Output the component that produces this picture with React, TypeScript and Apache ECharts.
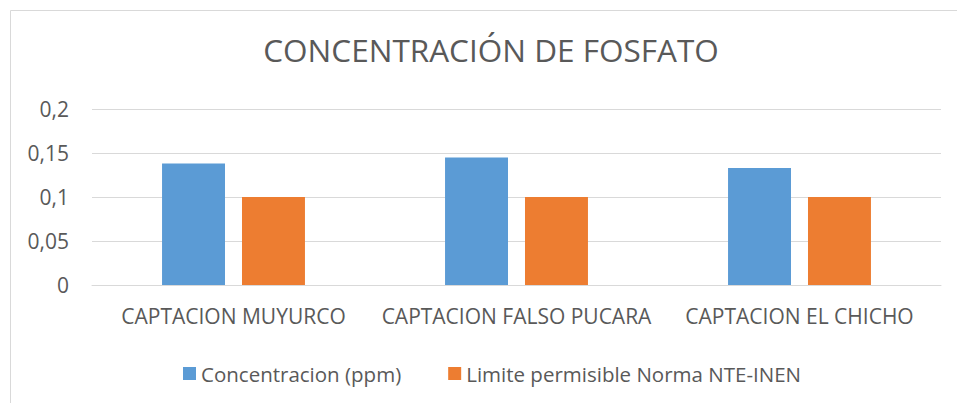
import React, { useEffect, useRef } from "react";
import * as echarts from "echarts";

const categories = ["CAPTACION MUYURCO", "CAPTACION FALSO PUCARA", "CAPTACION EL CHICHO"];
const concentracion = [0.138, 0.145, 0.133];
const limite = [0.1, 0.1, 0.1];
const seriesNames = ["Concentracion (ppm)", "Limite permisible Norma NTE-INEN"];
const titleText = "CONCENTRACIÓN DE FOSFATO";

const FONT = "Open Sans";
const TEXT = "#595959";
const LINE = "#d9d9d9";

export default function App() {
  const ref = useRef<HTMLDivElement>(null);
  useEffect(() => {
    document.body.style.margin = "0";
    const chart = echarts.init(ref.current!, null, { renderer: "svg" });
    chart.setOption({
      animation: false,
      backgroundColor: "#ffffff",
      title: {
        text: titleText,
        left: 486,
        textAlign: "center",
        top: 28,
        textStyle: { fontFamily: FONT, fontSize: 31.5, fontWeight: "normal", color: TEXT },
      },
      graphic: [
        {
          type: "rect",
          shape: { x: 10.5, y: 10.5, width: 1000, height: 500 },
          style: { fill: "none", stroke: LINE, lineWidth: 1 },
          silent: true,
          z: -10,
        },
      ],
      legend: {
        left: 178,
        top: 358,
        itemWidth: 13,
        itemHeight: 13,
        itemGap: 47,
        icon: "rect",
        textStyle: { fontFamily: FONT, fontSize: 20.5, color: TEXT },
        data: seriesNames,
      },
      grid: { left: 92, right: 16, top: 109, bottom: 118, containLabel: false },
      xAxis: {
        type: "category",
        data: categories,
        axisLine: { show: true, lineStyle: { color: LINE, width: 1 } },
        axisTick: { show: false },
        axisLabel: { fontFamily: FONT, fontSize: 21, color: TEXT, margin: 20, interval: 0, hideOverlap: false },
      },
      yAxis: {
        type: "value",
        min: 0,
        max: 0.2,
        interval: 0.05,
        axisLine: { show: false },
        axisTick: { show: false },
        splitLine: { lineStyle: { color: LINE, width: 1 } },
        axisLabel: {
          fontFamily: FONT,
          fontSize: 21,
          color: TEXT,
          margin: 23,
          formatter: (v: number) => String(Math.round(v * 100) / 100).replace(".", ","),
        },
      },
      series: [
        {
          name: seriesNames[0],
          type: "bar",
          data: concentracion,
          itemStyle: { color: "#5b9bd5" },
          barGap: "27%",
          barCategoryGap: "49.5%",
        },
        {
          name: seriesNames[1],
          type: "bar",
          data: limite,
          itemStyle: { color: "#ed7d31" },
          barGap: "27%",
          barCategoryGap: "49.5%",
        },
      ],
    });
    return () => chart.dispose();
  }, []);
  return <div ref={ref} style={{ width: 957, height: 403 }} />;
}
